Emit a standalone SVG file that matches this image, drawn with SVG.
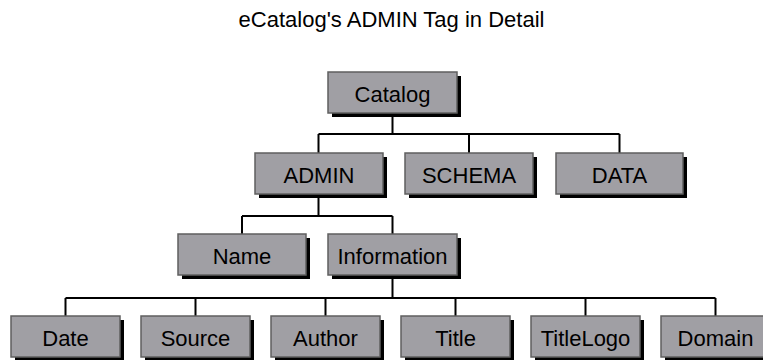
<svg xmlns="http://www.w3.org/2000/svg" width="763" height="360" viewBox="0 0 763 360">
  <style>
    .shadow { fill: #000000; }
    .box { fill: #a09fa4; stroke: #5f5f5f; stroke-width: 1.5; }
    .lbl { font-family: "Liberation Sans", Arial, sans-serif; font-size: 22px; fill: #000000; text-anchor: middle; }
    .title { font-family: "Liberation Sans", Arial, sans-serif; font-size: 22px; fill: #000000; text-anchor: middle; }
    .conn { stroke: #000000; stroke-width: 2; fill: none; }
  </style>
  <rect width="763" height="360" fill="#ffffff"/>
  <text class="title" x="391.5" y="27">eCatalog's ADMIN Tag in Detail</text>

  <g id="connectors">
    <path class="conn" d="M392.5,113 V134 M318.5,134 H619.5 M318.5,134 V153 M469,134 V153 M619.5,134 V153"/>
    <path class="conn" d="M318.5,194 V216 M242,216 H392.5 M242,216 V234 M392.5,216 V234"/>
    <path class="conn" d="M392.5,275 V298 M65.5,298 H715.5 M65.5,298 V316 M195.5,298 V316 M325.5,298 V316 M455.5,298 V316 M585.5,298 V316 M715.5,298 V316"/>
  </g>

  <g id="node-catalog">
    <rect class="shadow" x="332" y="76" width="129" height="41"/>
    <rect class="box" x="328" y="72" width="129" height="41"/>
    <text class="lbl" x="392.5" y="101.5">Catalog</text>
  </g>
  <g id="node-admin">
    <rect class="shadow" x="259" y="157" width="128" height="41"/>
    <rect class="box" x="255" y="153" width="128" height="41"/>
    <text class="lbl" x="319" y="182.5">ADMIN</text>
  </g>
  <g id="node-schema">
    <rect class="shadow" x="409" y="157" width="128" height="41"/>
    <rect class="box" x="405" y="153" width="128" height="41"/>
    <text class="lbl" x="469" y="182.5">SCHEMA</text>
  </g>
  <g id="node-data">
    <rect class="shadow" x="560" y="157" width="127" height="41"/>
    <rect class="box" x="556" y="153" width="127" height="41"/>
    <text class="lbl" x="619.5" y="182.5">DATA</text>
  </g>
  <g id="node-name">
    <rect class="shadow" x="182" y="238" width="128" height="41"/>
    <rect class="box" x="178" y="234" width="128" height="41"/>
    <text class="lbl" x="242" y="263.5">Name</text>
  </g>
  <g id="node-information">
    <rect class="shadow" x="332" y="238" width="129" height="41"/>
    <rect class="box" x="328" y="234" width="129" height="41"/>
    <text class="lbl" x="392.5" y="263.5">Information</text>
  </g>
  <g id="node-date">
    <rect class="shadow" x="15" y="320" width="109" height="41"/>
    <rect class="box" x="11" y="316" width="109" height="41"/>
    <text class="lbl" x="65.5" y="345.5">Date</text>
  </g>
  <g id="node-source">
    <rect class="shadow" x="145" y="320" width="109" height="41"/>
    <rect class="box" x="141" y="316" width="109" height="41"/>
    <text class="lbl" x="195.5" y="345.5">Source</text>
  </g>
  <g id="node-author">
    <rect class="shadow" x="275" y="320" width="109" height="41"/>
    <rect class="box" x="271" y="316" width="109" height="41"/>
    <text class="lbl" x="325.5" y="345.5">Author</text>
  </g>
  <g id="node-title">
    <rect class="shadow" x="405" y="320" width="109" height="41"/>
    <rect class="box" x="401" y="316" width="109" height="41"/>
    <text class="lbl" x="455.5" y="345.5">Title</text>
  </g>
  <g id="node-titlelogo">
    <rect class="shadow" x="535" y="320" width="109" height="41"/>
    <rect class="box" x="531" y="316" width="109" height="41"/>
    <text class="lbl" x="585.5" y="345.5">TitleLogo</text>
  </g>
  <g id="node-domain">
    <rect class="shadow" x="665" y="320" width="109" height="41"/>
    <rect class="box" x="661" y="316" width="109" height="41"/>
    <text class="lbl" x="715.5" y="345.5">Domain</text>
  </g>
</svg>
